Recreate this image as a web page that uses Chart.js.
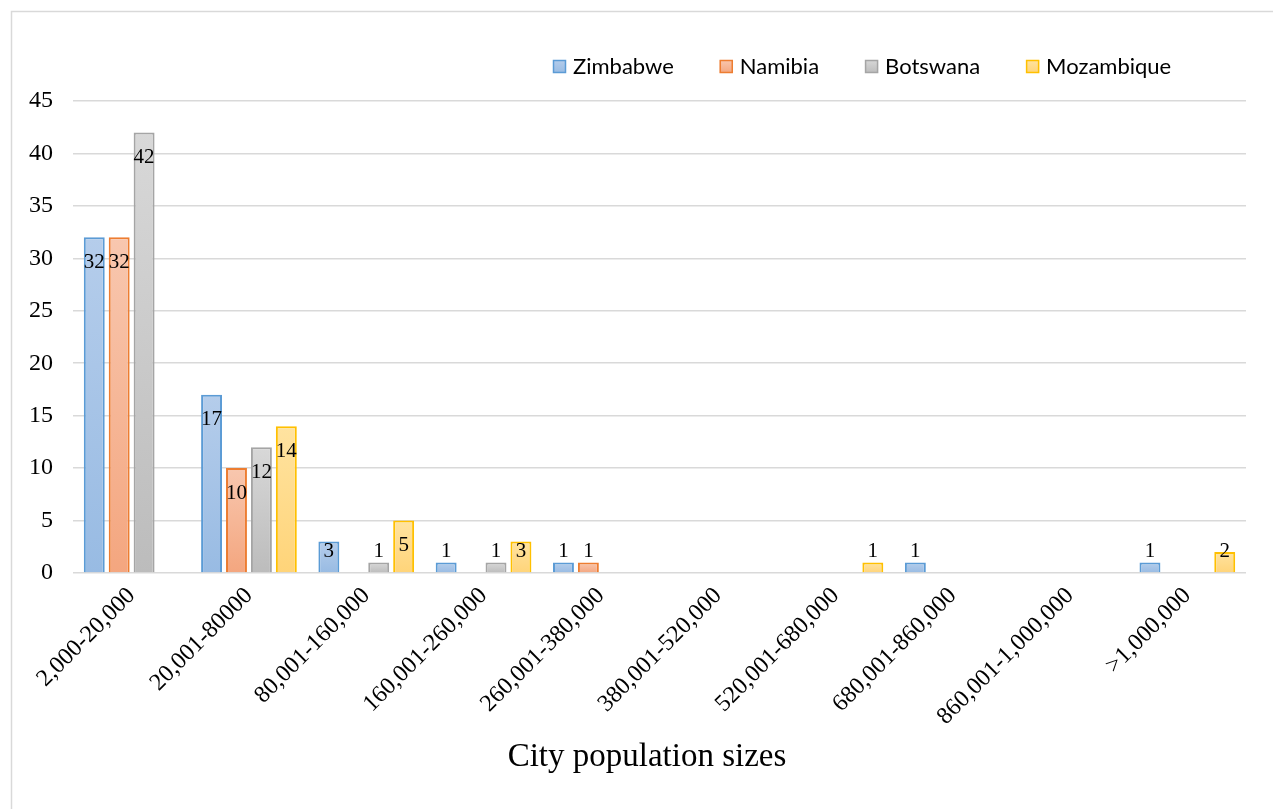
<!DOCTYPE html>
<html>
<head>
<meta charset="utf-8">
<script src="https://cdn.jsdelivr.net/npm/chart.js@4.4.1/dist/chart.umd.min.js"></script>
<style>
  html, body { margin: 0; padding: 0; background: #fff; }
  #wrap { width: 1273px; height: 809px; }
</style>
</head>
<body>
<div id="wrap"><canvas id="myChart" width="1273" height="809"></canvas></div>
<script>
// categorias y valores (null = sin barra)
const categorias = ['2,000-20,000', '20,001-80000', '80,001-160,000', '160,001-260,000', '260,001-380,000',
    '380,001-520,000', '520,001-680,000', '680,001-860,000', '860,001-1,000,000', '>1,000,000'];
const zimbabwe   = [32, 17, 3, 1, 1, null, null, 1, null, 1];
const namibia    = [32, 10, null, null, 1, null, null, null, null, null];
const botswana   = [42, 12, 1, 1, null, null, null, null, null, null];
const mozambique = [null, 14, 5, 3, null, null, 1, null, null, 2];
const yTicks = [0, 5, 10, 15, 20, 25, 30, 35, 40, 45];
const tituloX = 'City population sizes';

// colores: [arriba, abajo, borde]
const colores = {
    Zimbabwe:   ['#b5cdeb', '#98bbe3', '#5b9bd5'],
    Namibia:    ['#f8c7af', '#f4a67f', '#ed7d31'],
    Botswana:   ['#d8d8d8', '#bcbcbc', '#a5a5a5'],
    Mozambique: ['#ffe3a0', '#ffd479', '#ffc000']
};

const serif = '"Liberation Serif", "Times New Roman", serif';

function degradado(nombre) {
    return (context) => {
        const chart = context.chart;
        const c = colores[nombre];
        if (!chart.chartArea || context.raw == null) return c[1];
        const y = chart.scales.y;
        const top = y.getPixelForValue(context.raw);
        const base = y.getPixelForValue(0);
        const g = chart.ctx.createLinearGradient(0, top, 0, base);
        g.addColorStop(0, c[0]);
        g.addColorStop(1, c[1]);
        return g;
    };
}

function serie(nombre, datos) {
    return {
        label: nombre,
        data: datos,
        backgroundColor: degradado(nombre),
        borderColor: colores[nombre][2],
        borderWidth: 2,
        borderSkipped: 'bottom',
        categoryPercentage: 0.85,
        barPercentage: 0.84
    };
}

// marco, leyenda, titulo y etiquetas
const extras = {
    id: 'extras',
    beforeDraw(chart) {
        const ctx = chart.ctx;
        ctx.save();
        ctx.strokeStyle = '#d9d9d9';
        ctx.lineWidth = 1.5;
        ctx.strokeRect(11.5, 11.5, 2000, 2000);
        ctx.restore();
    },
    afterDraw(chart) {
        const ctx = chart.ctx;
        const zeroY = chart.scales.y.getPixelForValue(0);
        ctx.save();

        // etiquetas de datos
        ctx.font = '21px ' + serif;
        ctx.fillStyle = '#000';
        ctx.textAlign = 'center';
        ctx.textBaseline = 'middle';
        chart.data.datasets.forEach((ds, i) => {
            const meta = chart.getDatasetMeta(i);
            meta.data.forEach((bar, j) => {
                const v = ds.data[j];
                if (v == null) return;
                const cy = Math.min(bar.y + 25, zeroY - 22);
                ctx.fillText(String(v), bar.x, cy);
            });
        });

        // leyenda
        ctx.font = '22px Lato, "Open Sans", sans-serif';
        ctx.textAlign = 'left';
        let x = 553;
        const ly = 66;
        chart.data.datasets.forEach((ds) => {
            const c = colores[ds.label];
            const g = ctx.createLinearGradient(0, ly - 6, 0, ly + 7);
            g.addColorStop(0, c[0]);
            g.addColorStop(1, c[1]);
            ctx.fillStyle = g;
            ctx.fillRect(x, ly - 6, 13, 13);
            ctx.strokeStyle = c[2];
            ctx.lineWidth = 1.5;
            ctx.strokeRect(x + 0.5, ly - 5.5, 12, 12);
            ctx.fillStyle = '#000';
            ctx.fillText(ds.label, x + 20, ly + 1);
            x += 20 + ctx.measureText(ds.label).width + 46;
        });

        // titulo eje x
        ctx.font = '33px ' + serif;
        ctx.textAlign = 'center';
        ctx.fillStyle = '#000';
        ctx.fillText(tituloX, 647, 757);
        ctx.restore();
    }
};

new Chart(document.getElementById('myChart').getContext('2d'), {
    type: 'bar',
    data: {
        labels: categorias,
        datasets: [
            serie('Zimbabwe', zimbabwe),
            serie('Namibia', namibia),
            serie('Botswana', botswana),
            serie('Mozambique', mozambique)
        ]
    },
    options: {
        responsive: false,
        animation: false,
        layout: { padding: { top: 101, right: 27, left: 0, bottom: 0 } },
        plugins: {
            legend: { display: false },
            tooltip: { enabled: false }
        },
        scales: {
            x: {
                grid: { display: false, drawTicks: false },
                border: { display: false },
                ticks: {
                    color: '#000',
                    font: { family: serif, size: 24 },
                    minRotation: 45,
                    maxRotation: 45,
                    padding: 9,
                    autoSkip: false
                },
                afterFit(scale) { scale.height = 809 - 573; }
            },
            y: {
                min: 0,
                max: 45,
                afterBuildTicks(scale) { scale.ticks = yTicks.map(v => ({ value: v })); },
                grid: { color: '#d9d9d9', lineWidth: 1.5, drawTicks: false },
                border: { display: false },
                ticks: {
                    color: '#000',
                    font: { family: serif, size: 24 },
                    padding: 20
                },
                afterFit(scale) { scale.width = 73; }
            }
        }
    },
    plugins: [extras]
});
</script>
</body>
</html>
